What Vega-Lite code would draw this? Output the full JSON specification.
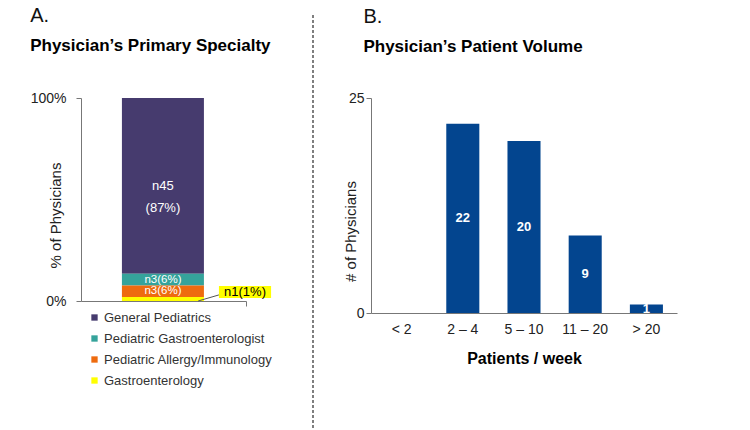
{
  "$schema": "https://vega.github.io/schema/vega-lite/v6.json",
  "padding": {"left": 30, "top": 6, "right": 5, "bottom": 5},
  "config": {
    "font": "Liberation Sans",
    "view": {"stroke": null},
    "axis": {"grid": false, "domainColor": "#777", "tickColor": "#777", "labelColor": "#222", "titleColor": "#222"},
    "text": {"font": "Liberation Sans"}
  },
  "spacing": 29,
  "hconcat": [
    {
      "spacing": 40,
      "hconcat": [
        {
          "width": 165,
          "height": 203,
          "title": {
            "text": "A.",
            "subtitle": "Physician’s Primary Specialty",
            "anchor": "start",
            "frame": "bounds",
            "fontSize": 20,
            "fontWeight": "normal",
            "color": "#111",
            "subtitleFontSize": 17,
            "subtitleFontWeight": "bold",
            "subtitleColor": "#000",
            "subtitlePadding": 12,
            "offset": 37
          },
          "data": {
            "values": [
              {"specialty": "General Pediatrics", "n": 45, "label": "n45\n(87%)", "order": 4},
              {"specialty": "Pediatric Gastroenterologist", "n": 3, "label": "n3(6%)", "order": 3},
              {"specialty": "Pediatric Allergy/Immunology", "n": 3, "label": "n3(6%)", "order": 2},
              {"specialty": "Gastroenterology", "n": 1, "label": "n1(1%)", "order": 1}
            ]
          },
          "transform": [
            {"stack": "n", "groupby": [], "sort": [{"field": "order", "order": "ascending"}], "offset": "normalize", "as": ["y0", "y1"]}
          ],
          "layer": [
            {
              "mark": {"type": "bar"},
              "encoding": {
                "x": {"datum": 0.248, "type": "quantitative", "scale": {"domain": [0, 1], "nice": false, "zero": false},
                      "axis": {"values": [1], "labels": false, "title": null, "tickSize": 5}},
                "x2": {"datum": 0.745},
                "y": {"field": "y0", "type": "quantitative", "scale": {"domain": [0, 1], "nice": false},
                      "axis": {"values": [0, 1], "format": "%", "title": "% of Physicians", "titleFontSize": 15, "titleFontWeight": "normal",
                               "labelFontSize": 14, "labelPadding": 10, "tickSize": 5, "titlePadding": -33, "titleY": 117}},
                "y2": {"field": "y1"},
                "color": {
                  "field": "specialty", "type": "nominal",
                  "scale": {"domain": ["General Pediatrics", "Pediatric Gastroenterologist", "Pediatric Allergy/Immunology", "Gastroenterology"],
                            "range": ["#463B6E", "#35A39B", "#EE6B0F", "#FFFF00"]},
                  "legend": {"orient": "none", "legendX": 7, "legendY": 213, "direction": "vertical", "title": null, "symbolType": "square",
                             "symbolSize": 40, "symbolStrokeWidth": 0, "labelFontSize": 13, "labelColor": "#333", "rowPadding": 7, "labelOffset": 3, "labelLimit": 400}
                }
              }
            },
            {
              "transform": [
                {"filter": "datum.specialty !== 'Gastroenterology'"},
                {"fold": ["y0", "y1"], "as": ["edge", "pos"]}
              ],
              "mark": {"type": "text", "color": "white", "lineBreak": "\n", "lineHeight": 22, "baseline": "middle"},
              "encoding": {
                "x": {"datum": 0.4965, "type": "quantitative"},
                "y": {"aggregate": "mean", "field": "pos", "type": "quantitative"},
                "text": {"field": "label"},
                "detail": {"field": "specialty"},
                "size": {"condition": {"test": "datum.specialty === 'General Pediatrics'", "value": 13}, "value": 11.5}
              }
            },
            {
              "transform": [{"filter": "datum.specialty === 'Gastroenterology'"}],
              "mark": {"type": "rule", "color": "#555", "strokeWidth": 1},
              "encoding": {
                "x": {"datum": 0.71, "type": "quantitative"},
                "x2": {"datum": 0.836},
                "y": {"datum": 0.0, "type": "quantitative"},
                "y2": {"datum": 0.03}
              }
            },
            {
              "transform": [{"filter": "datum.specialty === 'Gastroenterology'"}],
              "mark": {"type": "rect", "color": "#FFFF00"},
              "encoding": {
                "x": {"datum": 0.836, "type": "quantitative"},
                "x2": {"datum": 1.152},
                "y": {"datum": 0.015, "type": "quantitative"},
                "y2": {"datum": 0.074}
              }
            },
            {
              "transform": [{"filter": "datum.specialty === 'Gastroenterology'"}],
              "mark": {"type": "text", "color": "#000", "fontSize": 13, "baseline": "middle"},
              "encoding": {
                "x": {"datum": 0.994, "type": "quantitative"},
                "y": {"datum": 0.044, "type": "quantitative"},
                "text": {"field": "label"}
              }
            }
          ]
        },
        {
          "width": 1,
          "height": 100,
          "data": {"values": [{"top": 1.83, "bottom": -2.35}]},
          "mark": {"type": "rule", "color": "#555", "strokeDash": [3, 2], "strokeWidth": 1.5},
          "encoding": {
            "x": {"datum": 0, "type": "quantitative", "scale": {"domain": [0, 1]}, "axis": null},
            "y": {"field": "top", "type": "quantitative", "scale": {"domain": [0, 1], "nice": false, "zero": false}, "axis": null},
            "y2": {"field": "bottom"}
          }
        }
      ]
    },
    {
      "width": 306,
      "height": 215,
      "title": {
        "text": "B.",
        "subtitle": "Physician’s Patient Volume",
        "anchor": "start",
        "frame": "bounds",
        "dx": 20,
        "fontSize": 20,
        "fontWeight": "normal",
        "color": "#111",
        "subtitleFontSize": 17,
        "subtitleFontWeight": "bold",
        "subtitleColor": "#000",
        "subtitlePadding": 12,
        "offset": 36
      },
      "data": {
        "values": [
          {"volume": "< 2", "count": 0},
          {"volume": "2 – 4", "count": 22},
          {"volume": "5 – 10", "count": 20},
          {"volume": "11 – 20", "count": 9},
          {"volume": "> 20", "count": 1}
        ]
      },
      "layer": [
        {
          "mark": {"type": "bar", "color": "#03458F"},
          "encoding": {
            "x": {"field": "volume", "type": "nominal", "sort": null,
                  "scale": {"paddingInner": 0.46, "paddingOuter": 0.23},
                  "axis": {"labelAngle": 0, "ticks": false, "labelFontSize": 14, "labelPadding": 9, "title": "Patients / week",
                           "titleFontSize": 16, "titleFontWeight": "bold", "titleColor": "#000", "titlePadding": 14}},
            "y": {"field": "count", "type": "quantitative", "scale": {"domain": [0, 25], "nice": false},
                  "axis": {"values": [0, 25], "title": "# of Physicians", "titleFontSize": 15, "titleFontWeight": "normal",
                           "labelFontSize": 14, "tickSize": 5, "titlePadding": -10, "titleY": 133}}
          }
        },
        {
          "mark": {"type": "text", "color": "white", "fontSize": 13, "fontWeight": "bold", "baseline": "middle"},
          "encoding": {
            "x": {"field": "volume", "type": "nominal", "sort": null},
            "y": {"field": "count", "type": "quantitative", "scale": {"domain": [0, 50], "nice": false}, "axis": null},
            "text": {"field": "count", "type": "quantitative"},
            "opacity": {"condition": {"test": "datum.count > 0", "value": 1}, "value": 0}
          }
        }
      ],
      "resolve": {"scale": {"y": "independent"}}
    }
  ]
}
